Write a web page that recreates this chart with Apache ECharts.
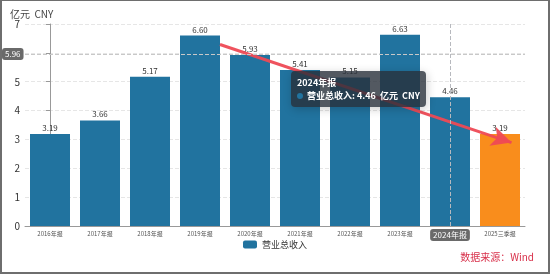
<!DOCTYPE html>
<html><head><meta charset="utf-8">
<script src="https://cdn.jsdelivr.net/npm/echarts@6/dist/echarts.min.js"></script>
<style>
html,body{margin:0;padding:0;background:#fff;}
#c{width:550px;height:274px;box-sizing:border-box;border:2px solid #6e6e6e;border-top-width:1px;}
</style></head><body>
<div id="c"></div>
<script>
var categories = ['2016年报','2017年报','2018年报','2019年报','2020年报','2021年报','2022年报','2023年报','2024年报','2025三季报'];
var revenue = [3.19, 3.66, 5.17, 6.60, 5.93, 5.41, 5.15, 6.63, 4.46, 3.19];
var seriesName = '营业总收入';
var unitName = '亿元  CNY';
var sourceText = '数据来源：Wind';
var yTicks = [0, 1, 2, 3, 4, 5, 6, 7];
var trendStart = [3.4, 6.29];
var trendEnd = [9.23, 2.89];
var pointerValue = [8.35, 5.96];

var chart = echarts.init(document.getElementById('c'));
var blue = '#21739f', orange = '#f98d1c';
chart.setOption({
  animation: false,
  textStyle: {fontFamily: '"Noto Sans CJK SC", "Noto Sans", sans-serif'},
  title: {text: unitName, left: 3, top: 3, textStyle: {fontSize: 10, color: '#444', fontWeight: 'normal'}},
  grid: {left: 23, right: 23, top: 23, bottom: 46},
  legend: {
    bottom: 18, left: 'center', icon: 'roundRect', itemWidth: 14, itemHeight: 8,
    textStyle: {fontSize: 9, color: '#333'}, data: [seriesName]
  },
  graphic: [{
    type: 'text', right: 14, top: 251,
    style: {text: sourceText, fill: '#d8304a', fontSize: 10, fontFamily: '"Noto Sans CJK SC", sans-serif'}
  }],
  tooltip: {
    trigger: 'axis', alwaysShowContent: true,
    backgroundColor: 'rgba(40,48,58,0.8)', borderWidth: 0, padding: [5, 6],
    textStyle: {color: '#fff', fontSize: 9, fontWeight: 'bold'},
    axisPointer: {type: 'cross', snap: false,
      crossStyle: {color: '#c8c8c8', type: 'dashed', width: 1},
      label: {backgroundColor: '#6a6a6a', fontSize: 8, padding: [2, 3]}},
    position: function () { return [289, 70]; },
    formatter: function (ps) {
      var p = ps.filter(function (x) { return x.seriesName === seriesName; })[0];
      return '<div style="line-height:13px">' + p.name + '<br/>' +
        '<span style="display:inline-block;width:6px;height:6px;border-radius:50%;background:' + blue + ';margin-right:4px"></span>' +
        seriesName + ': ' + p.value.toFixed(2) + '&nbsp;&nbsp;' + unitName.replace('  ', '&nbsp;&nbsp;') + '</div>';
    }
  },
  xAxis: [{
    type: 'category', data: categories,
    axisLine: {lineStyle: {color: '#999'}},
    axisTick: {alignWithLabel: true, length: 4, lineStyle: {color: '#999'}},
    axisLabel: {fontSize: 6, color: '#555', margin: 5, interval: 0},
    axisPointer: {snap: false}
  }, {
    type: 'value', min: -0.5, max: 9.5, show: false, axisPointer: {show: false}
  }],
  yAxis: {
    type: 'value', min: 0, max: 7, interval: 1,
    axisLine: {show: true, lineStyle: {color: '#999'}},
    axisTick: {show: true, length: 4, lineStyle: {color: '#999'}},
    axisLabel: {fontSize: 10, color: '#333', margin: 5,
      formatter: function (v) { return yTicks.indexOf(v) >= 0 ? v : ''; }},
    splitLine: {lineStyle: {color: '#e6e6e6', type: 'dashed'}}
  },
  series: [{
    name: seriesName, type: 'bar', barCategoryGap: '20%',
    itemStyle: {color: blue},
    emphasis: {disabled: true},
    label: {show: true, position: 'top', fontSize: 8, color: '#333', distance: 2,
      formatter: function (p) { return p.value.toFixed(2); }},
    data: revenue.map(function (v, i) {
      return i === revenue.length - 1 ? {value: v, itemStyle: {color: orange}} : v;
    })
  }, {
    name: 'trend', type: 'line', xAxisIndex: 1, data: [], silent: true,
    tooltip: {show: false},
    markLine: {
      silent: true, symbol: ['none', 'arrow'], symbolSize: [15, 20],
      lineStyle: {color: '#ee4a55', width: 3, type: 'solid', opacity: 0.95},
      label: {show: false},
      data: [[{coord: trendStart}, {coord: trendEnd}]]
    }
  }]
});
setTimeout(function () {
  var p0 = chart.convertToPixel({xAxisIndex: 1, yAxisIndex: 0}, pointerValue);
  chart.dispatchAction({type: 'showTip', x: p0[0], y: p0[1]});
}, 50);
</script>
</body></html>
